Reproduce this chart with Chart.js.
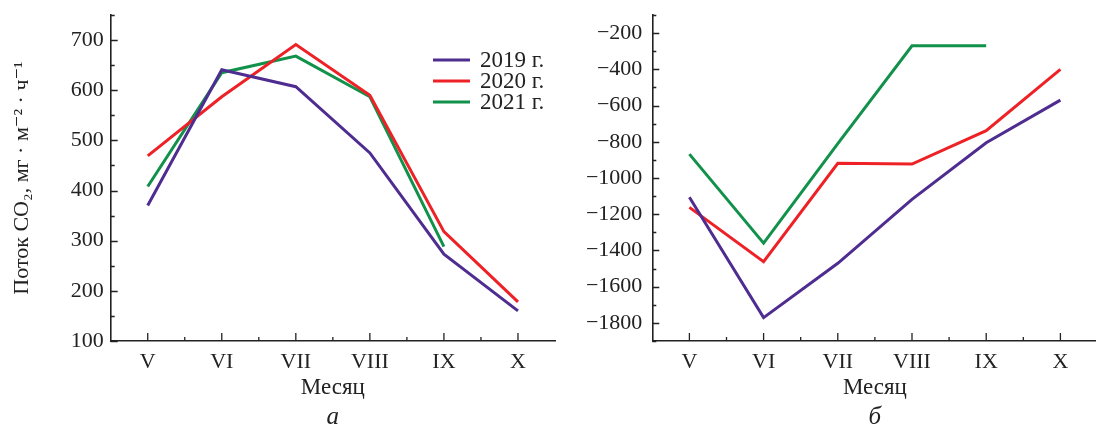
<!DOCTYPE html>
<html><head><meta charset="utf-8">
<script src="https://cdn.jsdelivr.net/npm/chart.js@4.4.1/dist/chart.umd.min.js"></script>
<style>
html,body{margin:0;padding:0;background:#fff;overflow:hidden;width:1096px;height:432px;}
#wa{position:absolute;left:0;top:0;width:560px;height:432px;}
#wb{position:absolute;left:560px;top:0;width:540px;height:432px;}
</style></head><body>
<div id="wa"><canvas id="ca"></canvas></div>
<div id="wb"><canvas id="cb"></canvas></div>
<script>
// ---- data ----
const months = ['V','VI','VII','VIII','IX','X'];
const seriesLabels = ['2019 г.','2020 г.','2021 г.'];
const seriesColors = ['#4f2d90','#ee2226','#11914a'];
// panel а : emission
const emission2019 = [370, 641, 607, 475, 273, 160];
const emission2020 = [469, 587, 691, 590, 318, 178];
const emission2021 = [408, 635, 668, 587, 288, null];
// panel б : uptake
const uptake2019 = [-1106, -1771, -1471, -1118, -805, -570];
const uptake2020 = [-1162, -1462, -919, -923, -739, -400];
const uptake2021 = [-868, -1360, -810, -270, -270, null];
const yTitleA = 'Поток CO₂, мг · м⁻² · ч⁻¹';
const xTitle = 'Месяц';
const panelLabels = ['а','б'];

const FONT = "'Liberation Serif','DejaVu Serif',serif";
const INK = '#222222';
const fmt = v => (v < 0 ? '\u2212' + Math.abs(v) : String(v));

const inwardTicks = {
  id: 'inwardTicks',
  afterDatasetsDraw(chart) {
    const ctx = chart.ctx, xs = chart.scales.x, ys = chart.scales.y, a = chart.chartArea;
    ctx.save();
    ctx.strokeStyle = INK; ctx.lineWidth = 1.3;
    ctx.beginPath();
    ys.ticks.forEach(t => {
      const py = Math.round(ys.getPixelForValue(t.value)) + 0.5;
      const len = t.label !== '' ? 7 : 4;
      ctx.moveTo(a.left, py); ctx.lineTo(a.left + len, py);
    });
    const n = xs.ticks.length;
    for (let i = 0; i < n; i++) {
      const px = xs.getPixelForTick(i);
      ctx.moveTo(px, a.bottom); ctx.lineTo(px, a.bottom - 8);
      if (i < n - 1) {
        const pm = (px + xs.getPixelForTick(i + 1)) / 2;
        ctx.moveTo(pm, a.bottom); ctx.lineTo(pm, a.bottom - 4);
      }
    }
    ctx.stroke();
    ctx.restore();
  }
};

const insideLegend = {
  id: 'insideLegend',
  afterDraw(chart, args, o) {
    if (!o || !o.show) return;
    const ctx = chart.ctx;
    ctx.save();
    ctx.font = '23px ' + FONT;
    ctx.textBaseline = 'middle';
    ctx.fillStyle = INK;
    chart.data.datasets.forEach((ds, i) => {
      const yy = o.y + i * o.gap;
      ctx.strokeStyle = ds.borderColor; ctx.lineWidth = 3.2;
      ctx.beginPath(); ctx.moveTo(o.x, yy); ctx.lineTo(o.x + o.len, yy); ctx.stroke();
      ctx.fillText(ds.label, o.x + o.len + 10, yy + 1);
    });
    ctx.restore();
  }
};

function makeDatasets(arrs) {
  return arrs.map((d, i) => ({
    label: seriesLabels[i], data: d, borderColor: seriesColors[i], backgroundColor: seriesColors[i],
    borderWidth: 3, pointRadius: 0, tension: 0, fill: false, spanGaps: false,
    borderJoinStyle: 'miter', borderCapStyle: 'butt'
  }));
}

function makeChart(canvasId, arrs, g) {
  return new Chart(document.getElementById(canvasId), {
    type: 'line',
    data: { labels: months, datasets: makeDatasets(arrs) },
    plugins: [inwardTicks, insideLegend],
    options: {
      responsive: true, maintainAspectRatio: false, animation: false,
      layout: { padding: { left: 0, top: 15, right: g.padRight, bottom: 0 } },
      plugins: {
        legend: { display: false },
        tooltip: { enabled: false },
        title: { display: true, position: 'bottom', fullSize: false, text: g.panel,
                 color: INK, font: { family: FONT, size: 25, style: 'italic', weight: 'normal' },
                 padding: { top: 0, bottom: 0 } },
        insideLegend: g.legend
      },
      scales: {
        x: {
          type: 'category', offset: true,
          ticks: { color: INK, padding: 8, autoSkip: false, maxRotation: 0, font: { family: FONT, size: 22 } },
          grid: { display: false, drawTicks: false },
          border: { display: true, color: INK, width: 1.6 },
          title: { display: true, text: xTitle, color: INK, font: { family: FONT, size: 23 }, padding: { top: 0, bottom: 0 } },
          afterFit: s => { s.height = 61; s.paddingLeft = 0; s.paddingRight = 0; }
        },
        y: {
          min: g.min, max: g.max,
          ticks: { stepSize: g.step, maxTicksLimit: 100, autoSkip: false, color: INK, padding: g.tickPad,
                   font: { family: FONT, size: 22 },
                   callback: v => (Math.abs(v) % g.major === 0 ? fmt(v) : '') },
          grid: { display: false, drawTicks: false },
          border: { display: true, color: INK, width: 1.6 },
          title: { display: !!g.yTitle, text: g.yTitle || '', color: INK,
                   font: { family: FONT, size: 22 }, padding: { top: 9, bottom: 0 } },
          afterFit: s => { s.width = g.yWidth; s.paddingTop = 0; s.paddingBottom = 0; }
        }
      }
    }
  });
}

makeChart('ca', [emission2019, emission2020, emission2021], {
  min: 100, max: 750, step: 50, major: 100, yWidth: 110.7, padRight: 5, tickPad: 7,
  yTitle: yTitleA, panel: panelLabels[0],
  legend: { show: true, x: 433, y: 60, gap: 21, len: 37 }
});
makeChart('cb', [uptake2019, uptake2020, uptake2021], {
  min: -1900, max: -100, step: 100, major: 200, yWidth: 92.3, padRight: 2.5, tickPad: 10,
  yTitle: null, panel: panelLabels[1],
  legend: { show: false }
});
</script>
</body></html>
